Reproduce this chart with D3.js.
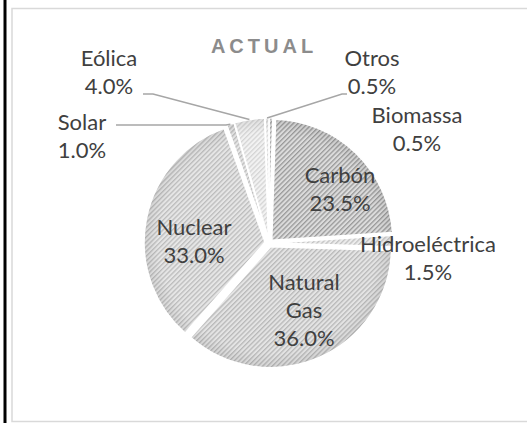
<!DOCTYPE html>
<html>
<head>
<meta charset="utf-8">
<script src="https://cdn.jsdelivr.net/npm/d3@7"></script>
<style>
  body { margin: 0; background: #fff; }
  svg { display: block; }
</style>
</head>
<body>
<div id="chart"></div>
<script>
// data
const categories = ["Biomassa", "Carbón", "Hidroeléctrica", "Natural Gas", "Nuclear", "Solar", "Eólica", "Otros"];
const values = [0.5, 23.5, 1.5, 36.0, 33.0, 1.0, 4.0, 0.5];
const labelLines = [["Biomassa"], ["Carbón"], ["Hidroeléctrica"], ["Natural", "Gas"], ["Nuclear"], ["Solar"], ["Eólica"], ["Otros"]];
const title = "ACTUAL";

const width = 527, height = 423;
const cx = 269, cy = 243, radius = 121, explode = 4;

// stripe colours per slice: [stripe, background]
const fills = {
  "Biomassa": ["#a0a0a0", "#dedede"],
  "Carbón": ["#999999", "#dcdcdc"],
  "Hidroeléctrica": ["#c2c2c2", "#ececec"],
  "Natural Gas": ["#b8b8b8", "#e4e4e4"],
  "Nuclear": ["#bcbcbc", "#e6e6e6"],
  "Solar": ["#bcbcbc", "#e6e6e6"],
  "Eólica": ["#d4d4d4", "#f2f2f2"],
  "Otros": ["#d4d4d4", "#f2f2f2"]
};

// where Excel put each label (centre x, first baseline) and leader line start
const labelLayout = {
  "Biomassa": {x: 417, y: 123},
  "Carbón": {x: 340, y: 183},
  "Hidroeléctrica": {x: 428, y: 252},
  "Natural Gas": {x: 304, y: 290},
  "Nuclear": {x: 194, y: 235},
  "Solar": {x: 82, y: 130, leader: [[116, 125], [226, 125]]},
  "Eólica": {x: 109, y: 66, leader: [[143, 94], [153, 94]]},
  "Otros": {x: 372, y: 66, leader: [[347, 94], [342, 94]]}
};
const lineH = 28;

const svg = d3.select("#chart").append("svg")
    .attr("width", width)
    .attr("height", height);

// outer frame
svg.append("line")
    .attr("x1", 5).attr("x2", 5).attr("y1", 0).attr("y2", height)
    .attr("stroke", "#000").attr("stroke-width", 3);
svg.append("rect")
    .attr("x", 12).attr("y", 8.5)
    .attr("width", 530).attr("height", 413)
    .attr("fill", "none").attr("stroke", "#d9d9d9").attr("stroke-width", 1.5);

const defs = svg.append("defs");
categories.forEach((c, i) => {
  const p = defs.append("pattern")
      .attr("id", "pat" + i)
      .attr("patternUnits", "userSpaceOnUse")
      .attr("width", 3.4).attr("height", 3.4)
      .attr("patternTransform", "rotate(45)");
  p.append("rect").attr("width", 3.4).attr("height", 3.4).attr("fill", fills[c][1]);
  p.append("rect").attr("width", 1.3).attr("height", 3.4).attr("fill", fills[c][0]);
});

// soft darker rim like Excel's shading
const grad = defs.append("radialGradient")
    .attr("id", "rim")
    .attr("gradientUnits", "userSpaceOnUse")
    .attr("cx", 0).attr("cy", 0).attr("r", radius);
grad.append("stop").attr("offset", "0.88").attr("stop-color", "#000").attr("stop-opacity", 0);
grad.append("stop").attr("offset", "1").attr("stop-color", "#000").attr("stop-opacity", 0.08);

const pie = d3.pie().sort(null).value(d => d);
const arcs = pie(values);
const arc = d3.arc().innerRadius(0).outerRadius(radius);

const g = svg.append("g").attr("transform", `translate(${cx},${cy})`);

function offset(d, k) {
  const a = (d.startAngle + d.endAngle) / 2;
  return [Math.sin(a) * k, -Math.cos(a) * k];
}

const slices = g.selectAll("g.slice")
  .data(arcs)
  .enter().append("g")
    .attr("class", "slice")
    .attr("transform", d => {
      const o = offset(d, explode);
      return `translate(${o[0]},${o[1]})`;
    });

slices.append("path")
    .attr("d", arc)
    .attr("fill", (d, i) => `url(#pat${i})`);
slices.append("path")
    .attr("d", arc)
    .attr("fill", "url(#rim)")
    .attr("stroke", "#fff")
    .attr("stroke-width", 1.5);

// leader lines
arcs.forEach((d, i) => {
  const lay = labelLayout[categories[i]];
  if (!lay.leader) return;
  const end = offset(d, radius + explode);
  const pts = lay.leader.concat([[cx + end[0], cy + end[1]]]);
  svg.append("path")
      .attr("d", d3.line()(pts))
      .attr("fill", "none")
      .attr("stroke", "#a6a6a6")
      .attr("stroke-width", 1.5);
});

// labels
arcs.forEach((d, i) => {
  const lay = labelLayout[categories[i]];
  const lines = labelLines[i].concat([d3.format(".1f")(values[i]) + "%"]);
  const t = svg.append("text")
      .attr("text-anchor", "middle")
      .attr("font-family", "Lato, 'Liberation Sans', sans-serif")
      .attr("font-size", 22)
      .attr("fill", "#404040");
  lines.forEach((s, j) => {
    t.append("tspan").attr("x", lay.x).attr("y", lay.y + j * lineH).text(s);
  });
});

svg.append("text")
    .attr("x", 264).attr("y", 53)
    .attr("text-anchor", "middle")
    .attr("font-family", "'Liberation Sans', Arial, sans-serif")
    .attr("font-weight", "bold")
    .attr("font-size", 20)
    .attr("letter-spacing", 4)
    .attr("fill", "#8c8c8c")
    .text(title);
</script>
</body>
</html>
